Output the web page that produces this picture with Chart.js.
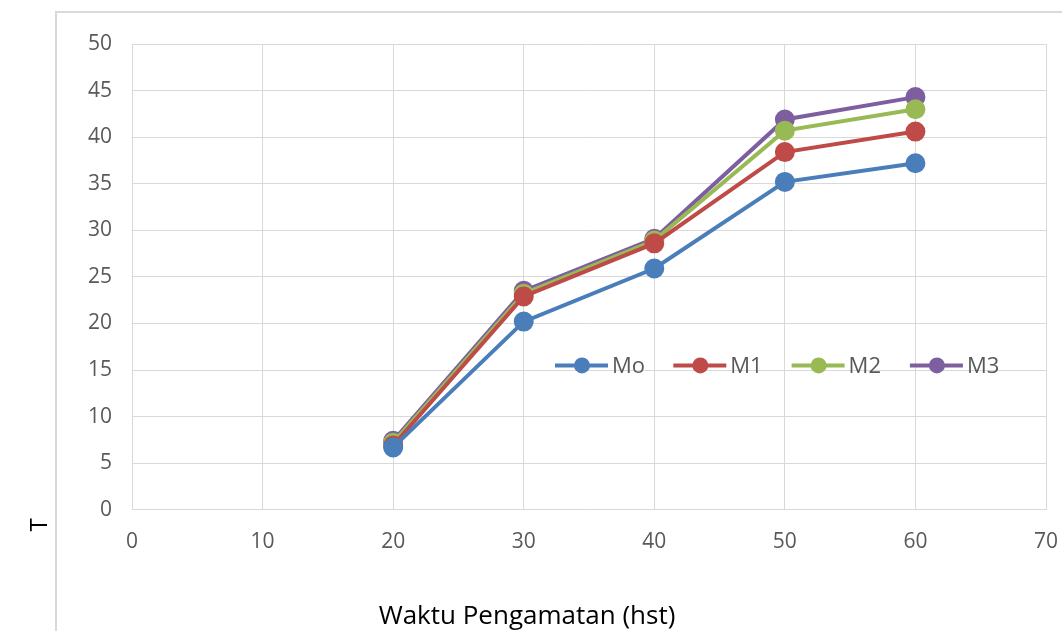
<!DOCTYPE html>
<html>
<head>
<meta charset="utf-8">
<script src="https://cdn.jsdelivr.net/npm/chart.js@4.4.0/dist/chart.umd.min.js"></script>
<style>
  html, body { margin: 0; padding: 0; background: #fff; }
  #wrap { width: 1062px; height: 631px; }
</style>
</head>
<body>
<div id="wrap"><canvas id="chart" width="1062" height="631"></canvas></div>
<script>
var days = [20, 30, 40, 50, 60];
var mo = [6.7, 20.2, 25.9, 35.2, 37.2];
var m1 = [6.9, 22.9, 28.6, 38.4, 40.6];
var m2 = [7.2, 23.2, 28.9, 40.7, 43.0];
var m3 = [7.4, 23.5, 29.1, 41.9, 44.3];
var seriesNames = ['Mo', 'M1', 'M2', 'M3'];
var seriesColors = ['#4a7ebb', '#be4b48', '#98b954', '#7d5fa0'];
var xTitle = 'Waktu Pengamatan (hst)';
var yTitle = 'T';

var FONT = '"Open Sans", "DejaVu Sans", sans-serif';
var TICK_COLOR = '#595959';
var GRID_COLOR = '#d9d9d9';

function toPoints(ys) {
    return days.map(function (d, i) { return { x: d, y: ys[i] }; });
}

var datasets = [mo, m1, m2, m3].map(function (ys, i) {
    return {
        label: seriesNames[i],
        data: toPoints(ys),
        borderColor: seriesColors[i],
        backgroundColor: seriesColors[i],
        borderWidth: 4,
        pointRadius: 8,
        pointHoverRadius: 8,
        showLine: true,
        tension: 0
    };
});

// outer frame, axis titles and the legend that sits inside the plot
var decorPlugin = {
    id: 'decor',
    beforeDraw: function (chart) {
        var ctx = chart.ctx;
        ctx.save();
        ctx.strokeStyle = GRID_COLOR;
        ctx.lineWidth = 2;
        ctx.strokeRect(56, 12, 1200, 800);
        ctx.restore();
    },
    afterDraw: function (chart) {
        var ctx = chart.ctx;
        var area = chart.chartArea;
        var ys = chart.scales.y;
        ctx.save();

        // y title
        ctx.fillStyle = '#000';
        ctx.font = '24px ' + FONT;
        ctx.translate(40, 525);
        ctx.rotate(-Math.PI / 2);
        ctx.textAlign = 'center';
        ctx.textBaseline = 'middle';
        ctx.fillText(yTitle, 0, 0);
        ctx.setTransform(1, 0, 0, 1, 0, 0);

        // x title
        ctx.font = '26px ' + FONT;
        ctx.fillText(xTitle, 527, 617);

        // legend
        var ly = ys.getPixelForValue(15.5);
        var lx = area.left + 423;
        ctx.font = '22px ' + FONT;
        ctx.textAlign = 'left';
        chart.data.datasets.forEach(function (ds, i) {
            var x0 = lx + i * 118.3;
            ctx.strokeStyle = ds.borderColor;
            ctx.lineWidth = 4;
            ctx.beginPath();
            ctx.moveTo(x0, ly);
            ctx.lineTo(x0 + 53, ly);
            ctx.stroke();
            ctx.fillStyle = ds.backgroundColor;
            ctx.beginPath();
            ctx.arc(x0 + 27, ly, 8, 0, Math.PI * 2);
            ctx.fill();
            ctx.fillStyle = TICK_COLOR;
            ctx.fillText(ds.label, x0 + 57, ly + 1);
        });
        ctx.restore();
    }
};

new Chart(document.getElementById('chart').getContext('2d'), {
    type: 'scatter',
    data: { datasets: datasets },
    plugins: [decorPlugin],
    options: {
        responsive: false,
        animation: false,
        layout: { padding: { left: 68, right: 16, top: 44, bottom: 56 } },
        plugins: {
            legend: { display: false },
            tooltip: { enabled: false },
            title: { display: false }
        },
        scales: {
            x: {
                type: 'linear',
                min: 0,
                max: 70,
                afterFit: function (scale) { scale.paddingLeft = 0; scale.paddingRight = 0; },
                ticks: { stepSize: 10, color: TICK_COLOR, font: { family: FONT, size: 21 }, padding: 20 },
                grid: { color: GRID_COLOR, lineWidth: 1, drawTicks: false },
                border: { color: GRID_COLOR }
            },
            y: {
                min: 0,
                max: 50,
                afterFit: function (scale) { scale.paddingTop = 0; scale.paddingBottom = 0; },
                ticks: { stepSize: 5, color: TICK_COLOR, font: { family: FONT, size: 21 }, padding: 20 },
                grid: { color: GRID_COLOR, lineWidth: 1, drawTicks: false },
                border: { color: GRID_COLOR }
            }
        }
    }
});
</script>
</body>
</html>
